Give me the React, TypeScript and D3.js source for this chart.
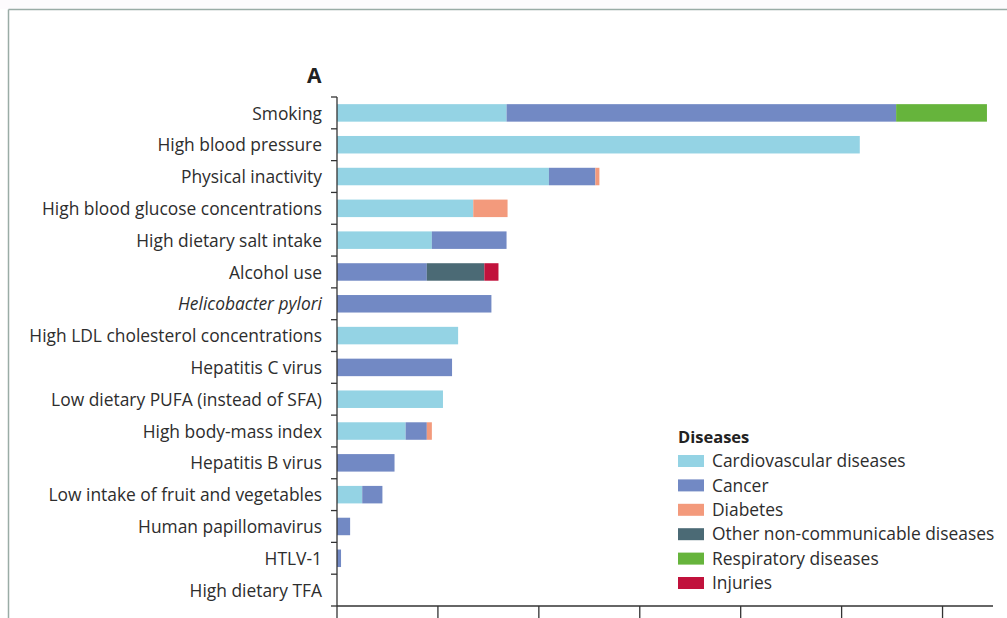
import React from "react";
import * as d3 from "d3";

// Risk factors, top to bottom
const riskFactors = [
  "Smoking",
  "High blood pressure",
  "Physical inactivity",
  "High blood glucose concentrations",
  "High dietary salt intake",
  "Alcohol use",
  "Helicobacter pylori",
  "High LDL cholesterol concentrations",
  "Hepatitis C virus",
  "Low dietary PUFA (instead of SFA)",
  "High body-mass index",
  "Hepatitis B virus",
  "Low intake of fruit and vegetables",
  "Human papillomavirus",
  "HTLV-1",
  "High dietary TFA",
];

// Disease groups (stack order)
const diseases = [
  "Cardiovascular diseases",
  "Cancer",
  "Diabetes",
  "Other non-communicable diseases",
  "Respiratory diseases",
  "Injuries",
];

const diseaseColors = ["#94d3e4", "#7289c4", "#f39a7c", "#4b6a75", "#66b43c", "#c1123c"];

// Attributable burden per risk factor, one array per disease group
const cardiovascular = [168, 518, 210, 135, 94, 0, 0, 120, 0, 105, 68, 0, 25, 0, 0, 0];
const cancer = [386, 0, 46, 0, 74, 89, 153, 0, 114, 0, 21, 57, 20, 13, 4, 0];
const diabetes = [0, 0, 4, 34, 0, 0, 0, 0, 0, 0, 5, 0, 0, 0, 0, 0];
const otherNcd = [0, 0, 0, 0, 0, 57, 0, 0, 0, 0, 0, 0, 0, 0, 0, 0];
const respiratory = [90, 0, 0, 0, 0, 0, 0, 0, 0, 0, 0, 0, 0, 0, 0, 0];
const injuries = [0, 0, 0, 0, 0, 14, 0, 0, 0, 0, 0, 0, 0, 0, 0, 0];

const xTicks = [0, 100, 200, 300, 400, 500, 600];

const W = 1007;
const H = 618;
const FONT = "'Open Sans', 'DejaVu Sans', sans-serif";
const TEXT = "#2d2d2d";
const LABEL_SIZE = 17.4;

export default function App() {
  const seriesValues = [cardiovascular, cancer, diabetes, otherNcd, respiratory, injuries];
  const rows = riskFactors.map((name, i) => {
    const row: Record<string, any> = { name };
    diseases.forEach((d, k) => (row[d] = seriesValues[k][i]));
    return row;
  });
  const stacked = d3.stack<any>().keys(diseases)(rows);

  const x = d3.scaleLinear().domain([0, 650]).range([337, 993]);
  const y = d3.scaleBand<string>().domain(riskFactors).range([97, 606]).padding(0);
  const step = y.step();
  const barH = step * 0.55;
  const barOff = (step - barH) / 2;

  const boundaries = riskFactors.map((r) => y(r)!).concat([606]);

  const legendX = 678;
  const legendY0 = 461;
  const legendStep = 24.4;

  return (
    <svg
      width={W}
      height={H}
      style={{ position: "absolute", left: 0, top: 0, background: "#ffffff" }}
      fontFamily={FONT}
    >
      {/* panel frame */}
      <rect x={0} y={0} width={W} height={9} fill="#fdfbfd" />
      <line x1={8.5} y1={9.5} x2={W} y2={9.5} stroke="#9aaca6" strokeWidth={1.5} />
      <line x1={8.5} y1={9.5} x2={8.5} y2={H} stroke="#9aaca6" strokeWidth={1.5} />

      <text x={307} y={83} fontSize={21} fontWeight={700} fill="#222">
        A
      </text>

      {/* stacked bars */}
      {stacked.map((layer, k) => (
        <g key={diseases[k]} fill={diseaseColors[k]}>
          {layer.map((seg, i) =>
            seg[1] - seg[0] > 0 ? (
              <rect
                key={i}
                x={x(seg[0])}
                y={y(riskFactors[i])! + barOff}
                width={x(seg[1]) - x(seg[0])}
                height={barH}
              />
            ) : null
          )}
        </g>
      ))}

      {/* y axis */}
      <line x1={337} y1={97} x2={337} y2={606} stroke="#333" strokeWidth={1.3} />
      {boundaries.map((b, i) => (
        <line key={i} x1={331} y1={b} x2={337} y2={b} stroke="#333" strokeWidth={1.3} />
      ))}
      {riskFactors.map((r) => (
        <text
          key={r}
          x={322}
          y={y(r)! + step / 2}
          dy="0.38em"
          textAnchor="end"
          fontSize={LABEL_SIZE}
          fill={TEXT}
          fontStyle={r === "Helicobacter pylori" ? "italic" : "normal"}
        >
          {r}
        </text>
      ))}

      {/* x axis */}
      <line x1={337} y1={606} x2={993} y2={606} stroke="#333" strokeWidth={1.3} />
      {xTicks.map((t) => (
        <line key={t} x1={x(t)} y1={606} x2={x(t)} y2={618} stroke="#333" strokeWidth={1.3} />
      ))}

      {/* legend */}
      <text x={legendX} y={443} fontSize={16.5} fontWeight={700} fill="#222">
        Diseases
      </text>
      {diseases.map((d, k) => (
        <g key={d} transform={`translate(${legendX},${legendY0 + k * legendStep})`}>
          <rect x={0} y={-6} width={26} height={12} fill={diseaseColors[k]} />
          <text x={34} y={0} dy="0.36em" fontSize={LABEL_SIZE} fill={TEXT}>
            {d}
          </text>
        </g>
      ))}
    </svg>
  );
}
